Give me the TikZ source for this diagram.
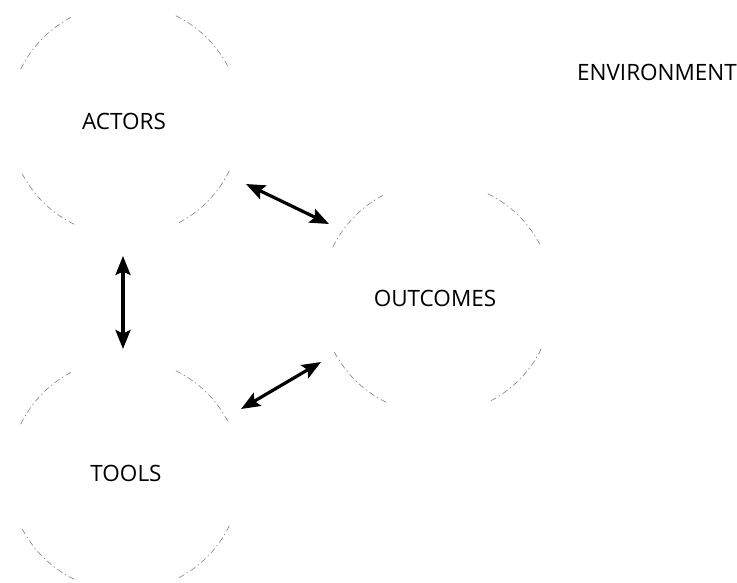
\documentclass[tikz,border=0pt]{standalone}
\usepackage{fontspec}
\setmainfont{Open Sans}
\usetikzlibrary{arrows.meta}
\begin{document}
\begin{tikzpicture}[x=1pt,y=-1pt,
  lbl/.style={font=\fontsize{22.5}{26}\selectfont, inner sep=0pt},
  rim/.style={draw=black!50, line width=0.6pt, dash pattern=on 6pt off 3pt on 1.5pt off 3pt},
  link/.style={line width=3.2pt, {Stealth[length=19pt,width=15pt,inset=3.5pt]}-{Stealth[length=19pt,width=15pt,inset=3.5pt]}}]
\useasboundingbox (0,0) rectangle (737,582);
\node[lbl] (A) at (124,121) {ACTORS};
\node[lbl] (O) at (435,298) {OUTCOMES};
\node[lbl] (T) at (126,473) {TOOLS};
\node[lbl] (E) at (657,72) {ENVIRONMENT};
\foreach \c/\cx/\cy in {A/125/120, O/437/298, T/125/475}{
  \foreach \q in {0,90,180,270}{
    \pgfmathsetmacro{\aone}{\q+26}
    \pgfmathsetmacro{\atwo}{\q+63}
    \draw[rim] ([shift={(\aone:116)}]\cx,\cy) arc[start angle=\aone, end angle=\atwo, radius=116];
  }
}
\coordinate (a1) at (246,184);
\coordinate (o1) at (329,224);
\coordinate (a2) at (123,256);
\coordinate (t2) at (123,349);
\coordinate (t3) at (241,409);
\coordinate (o3) at (321,362);
\draw[link] (a1) -- (o1);
\draw[link] (a2) -- (t2);
\draw[link] (t3) -- (o3);
\end{tikzpicture}
\end{document}
